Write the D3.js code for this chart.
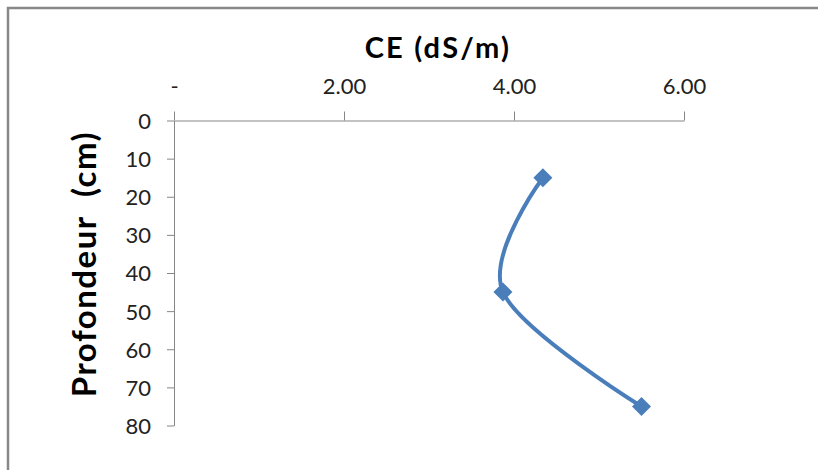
<!DOCTYPE html>
<html><head><meta charset="utf-8">
<script src="https://cdn.jsdelivr.net/npm/d3@7"></script>
<style>body{margin:0;background:#fff;overflow:hidden}svg{display:block}</style>
</head><body>
<script>
const depths = [15, 45, 75];
const ceValues = [4.34, 3.87, 5.50];
const xTicks = [0, 2, 4, 6];
const xTickLabels = ["-", "2.00", "4.00", "6.00"];
const yTicks = [0, 10, 20, 30, 40, 50, 60, 70, 80];
const xTitle = "CE (dS/m)";
const yTitle = "Profondeur  (cm)";

const W = 818, H = 470;
const svg = d3.select("body").append("svg").attr("width", W).attr("height", H);
svg.append("path").attr("d", `M8,${H + 5}V8H${W + 5}`)
  .attr("fill", "none").attr("stroke", "#888").attr("stroke-width", 2.5);

const x = d3.scaleLinear().domain([0, 6]).range([174, 684]);
const y = d3.scaleLinear().domain([0, 80]).range([120.5, 425.5]);
const font = "Lato, 'Open Sans', sans-serif";

const xAxis = svg.append("g").attr("transform", `translate(0,${y(0)})`)
  .call(d3.axisTop(x).tickValues(xTicks).tickSizeOuter(0).tickSizeInner(9).tickPadding(18)
    .tickFormat((d, i) => xTickLabels[i]));
const yAxis = svg.append("g").attr("transform", `translate(${x(0)},0)`)
  .call(d3.axisLeft(y).tickValues(yTicks).tickSizeOuter(0).tickSizeInner(7).tickPadding(16));
[xAxis, yAxis].forEach(g => {
  g.selectAll("path.domain").attr("stroke", "#868686").attr("stroke-width", 1);
  g.selectAll(".tick line").attr("stroke", "#868686");
  g.selectAll("text").attr("font-family", font).attr("font-size", 22).attr("fill", "#222");
});
yAxis.selectAll("text").attr("dy", "0.36em");

const pts = depths.map((d, i) => [ceValues[i], d]);
svg.append("path").datum(pts)
  .attr("d", d3.line().x(d => x(d[0])).y(d => y(d[1])).curve(d3.curveCardinal.tension(0)))
  .attr("fill", "none").attr("stroke", "#4a7ebb").attr("stroke-width", 4)
  .attr("stroke-linecap", "round");
svg.selectAll("path.mk").data(pts).enter().append("path")
  .attr("class", "mk")
  .attr("d", d3.symbol().type(d3.symbolDiamond2).size(230))
  .attr("transform", d => `translate(${x(d[0])},${y(d[1])})`)
  .attr("fill", "#4a7ebb");

svg.append("text").attr("x", 438).attr("y", 58).attr("text-anchor", "middle")
  .attr("font-family", font).attr("font-weight", "bold").attr("font-size", 29)
  .attr("letter-spacing", 2.2).attr("fill", "#000")
  .text(xTitle);
svg.append("text").attr("transform", "translate(96,264) rotate(-90)").attr("text-anchor", "middle")
  .attr("font-family", font).attr("font-weight", "bold").attr("font-size", 33)
  .attr("letter-spacing", 1.5).attr("fill", "#000").style("white-space", "pre")
  .text(yTitle);
</script>
</body></html>
